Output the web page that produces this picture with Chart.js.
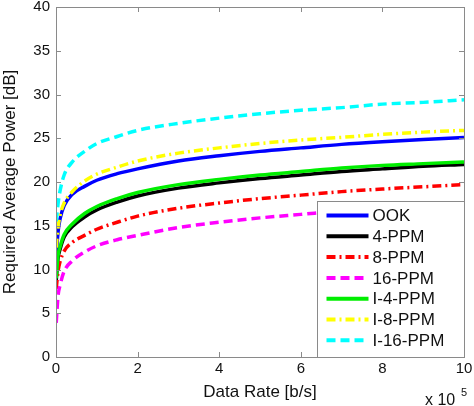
<!DOCTYPE html>
<html>
<head>
<meta charset="utf-8">
<script src="https://cdn.jsdelivr.net/npm/chart.js@4/dist/chart.umd.min.js"></script>
<style>
  html, body { margin: 0; padding: 0; background: #fff; }
  #wrap { width: 474px; height: 406px; }
</style>
</head>
<body>
<div id="wrap"><canvas id="powerChart" width="474" height="406"></canvas></div>
<script>
// data rate in units of 1e5 b/s, power in dB
var rates = [0.005, 0.05, 0.1, 0.2, 0.4, 0.7, 1, 1.5, 2, 3, 4, 5, 6, 7, 8, 9, 10]
var ook = [11.5, 14.3, 15.8, 17.3, 18.6, 19.5, 20.2, 20.95, 21.5, 22.4, 23.0, 23.5, 23.9, 24.3, 24.6, 24.85, 25.1]
var ppm4 = [8.7, 11.3, 12.3, 13.7, 14.9, 16.0, 16.8, 17.7, 18.4, 19.3, 19.9, 20.4, 20.8, 21.2, 21.5, 21.8, 22.0]
var ppm8 = [7.8, 9.8, 10.9, 12.1, 13.1, 13.9, 14.6, 15.4, 16.1, 17.0, 17.6, 18.1, 18.5, 18.9, 19.2, 19.45, 19.7]
var ppm16 = [3.9, 7.0, 8.2, 9.8, 11.0, 12.0, 12.7, 13.4, 13.9, 14.8, 15.4, 15.9, 16.3, 16.7, 17.0, 17.3, 17.5]
var ippm4 = [9.0, 11.6, 12.6, 14.0, 15.2, 16.4, 17.2, 18.1, 18.8, 19.7, 20.3, 20.8, 21.2, 21.6, 21.9, 22.1, 22.3]
var ippm8 = [12.5, 14.8, 16.2, 17.6, 18.9, 20.1, 20.9, 21.7, 22.4, 23.3, 23.9, 24.4, 24.8, 25.1, 25.45, 25.7, 25.9]
var ippm16 = [15.5, 17.5, 19.0, 20.8, 22.3, 23.5, 24.4, 25.2, 25.9, 26.7, 27.3, 27.8, 28.2, 28.5, 28.9, 29.1, 29.4]

var seriesNames = ['OOK', '4-PPM', '8-PPM', '16-PPM', 'I-4-PPM', 'I-8-PPM', 'I-16-PPM']
var seriesData = [ook, ppm4, ppm8, ppm16, ippm4, ippm8, ippm16]
var seriesColors = ['#0000ff', '#000000', '#ff0000', '#ff00ff', '#00ee00', '#ffff00', '#00ffff']
var dashDot = [9, 4, 2, 4]
var dashed = [9, 5]
var seriesDash = [[], [], dashDot, dashed, [], dashDot, dashed]

var xTicks = [0, 2, 4, 6, 8, 10]
var yTicks = [0, 5, 10, 15, 20, 25, 30, 35, 40]

var font = "'Liberation Sans', Arial, Helvetica, sans-serif"

function toPoints(values) {
    return rates.map(function (r, i) { return { x: r, y: values[i] } })
}

var datasets = seriesNames.map(function (name, i) {
    return {
        label: name,
        data: toPoints(seriesData[i]),
        borderColor: seriesColors[i],
        backgroundColor: seriesColors[i],
        borderWidth: 3.5,
        borderDash: seriesDash[i],
        pointRadius: 0,
        cubicInterpolationMode: 'monotone',
        order: 6 - i
    }
})

// frame with inward ticks, MATLAB style
var framePlugin = {
    id: 'frame',
    afterDatasetsDraw: function (chart) {
        var c = chart.ctx
        var a = chart.chartArea
        var xs = chart.scales.x
        var ys = chart.scales.y
        c.save()
        c.strokeStyle = '#8a8a8a'
        c.lineWidth = 1
        c.beginPath()
        xTicks.forEach(function (t) {
            var px = Math.round(xs.getPixelForValue(t)) + 0.5
            c.moveTo(px, a.bottom); c.lineTo(px, a.bottom - 5)
            c.moveTo(px, a.top); c.lineTo(px, a.top + 5)
        })
        yTicks.forEach(function (t) {
            var py = Math.round(ys.getPixelForValue(t)) + 0.5
            c.moveTo(a.left, py); c.lineTo(a.left + 5, py)
            c.moveTo(a.right, py); c.lineTo(a.right - 5, py)
        })
        c.stroke()
        c.strokeRect(Math.round(a.left) + 0.5, Math.round(a.top) + 0.5, Math.round(a.right - a.left), Math.round(a.bottom - a.top))
        c.restore()
    }
}

// legend box sitting in the lower right corner of the plot
var boxLegend = {
    id: 'boxLegend',
    afterDraw: function (chart) {
        var c = chart.ctx
        var a = chart.chartArea
        var w = 147, h = 156
        var left = Math.round(a.right - w) + 0.5
        var top = Math.round(a.bottom - h) + 0.5
        c.save()
        c.fillStyle = '#fff'
        c.fillRect(left, top, w, h)
        c.strokeStyle = '#8a8a8a'
        c.lineWidth = 1
        c.strokeRect(left, top, w, h)
        c.font = '17px ' + font
        c.textBaseline = 'middle'
        c.textAlign = 'left'
        seriesNames.forEach(function (name, i) {
            var y = top + 14 + i * 20.8
            c.beginPath()
            c.strokeStyle = seriesColors[i]
            c.lineWidth = 4
            c.setLineDash(seriesDash[i])
            c.moveTo(left + 9, y)
            c.lineTo(left + 51, y)
            c.stroke()
            c.setLineDash([])
            c.fillStyle = '#111'
            c.fillText(name, left + 55, y + 1)
        })

        // exponent label under the x axis
        c.fillStyle = '#111'
        c.font = '16px ' + font
        c.textBaseline = 'alphabetic'
        c.fillText('x 10', 425, 405)
        c.font = '11px ' + font
        c.fillText('5', 461, 396)
        c.restore()
    }
}

var ctx = document.getElementById('powerChart')
var powerChart = new Chart(ctx, {
    type: 'line',
    data: { datasets: datasets },
    options: {
        responsive: false,
        animation: false,
        devicePixelRatio: 1,
        layout: { padding: 0 },
        plugins: {
            legend: { display: false },
            tooltip: { enabled: false }
        },
        scales: {
            x: {
                type: 'linear',
                min: 0,
                max: 10,
                afterFit: function (scale) {
                    scale.height = 49
                    scale.paddingLeft = 0
                    scale.paddingRight = 10
                },
                afterBuildTicks: function (scale) {
                    scale.ticks = xTicks.map(function (v) { return { value: v } })
                },
                grid: { display: false, drawTicks: false },
                border: { display: false },
                ticks: {
                    padding: 3,
                    color: '#111',
                    font: { family: font, size: 15 },
                    maxRotation: 0
                },
                title: {
                    display: true,
                    text: 'Data Rate [b/s]',
                    color: '#111',
                    font: { family: font, size: 17 },
                    padding: { top: 0, bottom: 3 }
                }
            },
            y: {
                min: 0,
                max: 40,
                afterFit: function (scale) {
                    scale.width = 56
                    scale.paddingTop = 7
                    scale.paddingBottom = 0
                },
                afterBuildTicks: function (scale) {
                    scale.ticks = yTicks.map(function (v) { return { value: v } })
                },
                grid: { display: false, drawTicks: false },
                border: { display: false },
                ticks: {
                    padding: 6,
                    color: '#111',
                    font: { family: font, size: 15 }
                },
                title: {
                    display: true,
                    text: 'Required Average Power [dB]',
                    color: '#111',
                    font: { family: font, size: 17 },
                    padding: { top: 0, bottom: 0 }
                }
            }
        }
    },
    plugins: [framePlugin, boxLegend]
})
</script>
</body>
</html>
